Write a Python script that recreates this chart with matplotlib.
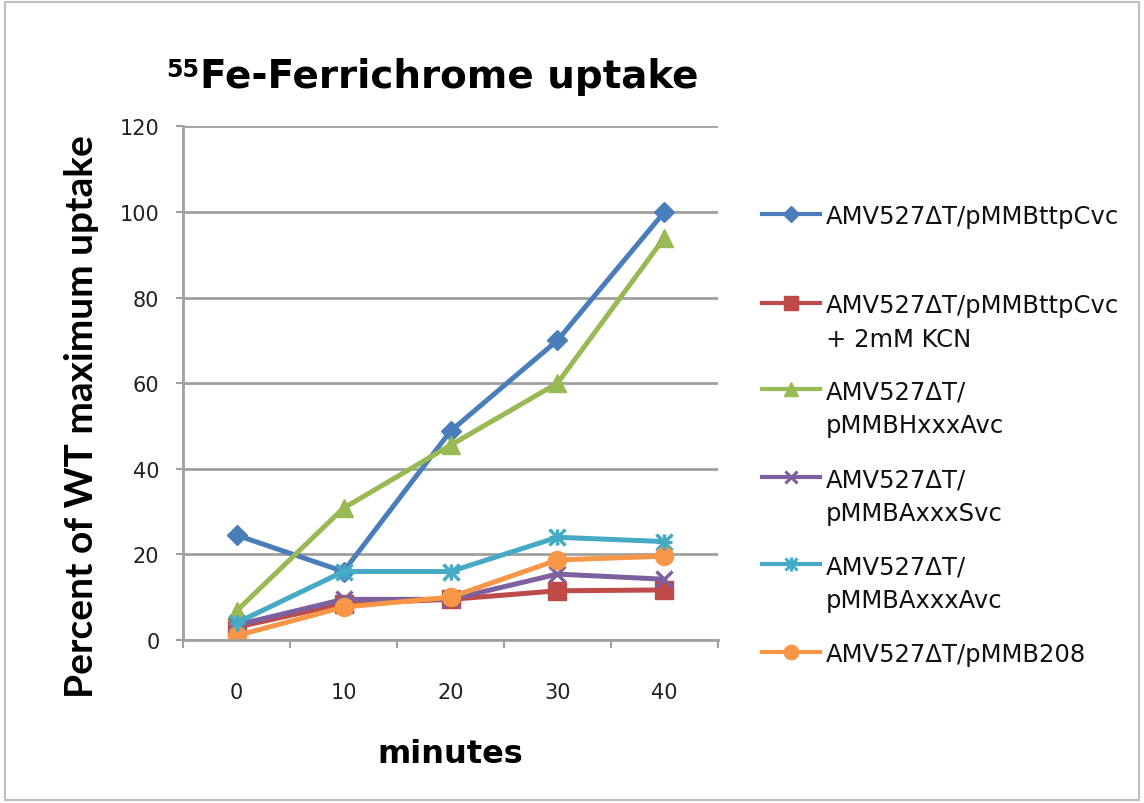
import matplotlib
matplotlib.use("Agg")
import matplotlib.pyplot as plt
from matplotlib.lines import Line2D
from matplotlib.patches import Rectangle

plt.rcParams['font.family'] = ['DejaVu Sans']

categories = ["0", "10", "20", "30", "40"]
series_names = [
    "AMV527ΔT/pMMBttpCvc",
    "AMV527ΔT/pMMBttpCvc\n+ 2mM KCN",
    "AMV527ΔT/\npMMBHxxxAvc",
    "AMV527ΔT/\npMMBAxxxSvc",
    "AMV527ΔT/\npMMBAxxxAvc",
    "AMV527ΔT/pMMB208",
]
wt = [24.5, 16, 48.8, 70, 100]
kcn = [3, 8.5, 9.5, 11.5, 11.7]
hxxxa = [6.8, 30.8, 45.5, 60, 94]
axxxs = [3.5, 9.5, 9.5, 15.4, 14.2]
axxxa = [4, 16, 16, 24, 23]
pmmb208 = [1, 7.7, 10, 18.7, 19.6]
series_values = [wt, kcn, hxxxa, axxxs, axxxa, pmmb208]
yticks = [0, 20, 40, 60, 80, 100, 120]

colors = ["#4a7ebb", "#be4b48", "#98b954", "#7d60a0", "#46aac5", "#f79646"]
markers = ["D", "s", "^", "x", "x", "o"]
msizes = [10, 13, 13, 11, 11, 13]

fig = plt.figure(figsize=(11.44, 8.04), dpi=100)
fig.patch.set_facecolor("white")
fig.add_artist(Rectangle((0.004, 0.004), 0.992, 0.992, transform=fig.transFigure,
                         fill=False, edgecolor="#bfbfbf", linewidth=1.5))

ax = fig.add_axes([0.16, 0.2027, 0.4676, 0.639])
x = list(range(len(categories)))
for vals, c, m, ms in zip(series_values, colors, markers, msizes):
    extra = {}
    if m == "x":
        extra = dict(markeredgewidth=2.5)
    ax.plot(x, vals, color=c, linewidth=3.6, marker=m, markersize=ms,
            markerfacecolor=c, markeredgecolor=c, **extra)
# cyan uses asterisk-like marker: add plus overlay
ax.plot(x, axxxa, linestyle="none", marker="+", markersize=12,
        markeredgewidth=2.5, color=colors[4])

ax.set_xlim(-0.5, 4.5)
ax.set_ylim(0, 120)
ax.set_yticks(yticks)
ax.set_yticklabels([str(v) for v in yticks], fontsize=15, color="#222222")
ax.set_xticks(x)
ax.set_xticklabels(categories, fontsize=15, color="#222222")
ax.set_xticks([i - 0.5 for i in range(len(categories) + 1)], minor=True)
ax.tick_params(axis="x", which="major", length=0, pad=30)
ax.tick_params(axis="x", which="minor", length=6, color="#a0a0a0", width=1.5)
ax.tick_params(axis="y", length=5, color="#a0a0a0", width=1.5, pad=12)
ax.grid(axis="y", color="#a0a0a0", linewidth=2)
ax.set_axisbelow(True)
for s in ["top", "right"]:
    ax.spines[s].set_visible(False)
for s in ["left", "bottom"]:
    ax.spines[s].set_color("#a0a0a0")
    ax.spines[s].set_linewidth(2)

ax.set_xlabel("minutes", fontsize=23, fontweight="bold", labelpad=26)
ax.set_ylabel("Percent of WT maximum uptake", fontsize=28, fontweight="bold",
              family=["Lato", "DejaVu Sans"])
ax.yaxis.set_label_coords(-0.157, 0.436)

fig.text(200 / 1144, 1 - 77 / 804, "Fe-Ferrichrome uptake", fontsize=28,
         fontweight="bold", ha="left", va="center")
fig.text(166 / 1144, 1 - 70 / 804, "55", fontsize=17, fontweight="bold",
         ha="left", va="center")

# legend, drawn manually for Excel-like spacing
leg_y = [215, 304, 390, 478, 565, 653]
for name, c, m, ms, yy in zip(series_names, colors, markers, msizes, leg_y):
    yf = 1 - yy / 804
    extra = {}
    if m == "x":
        extra = dict(markeredgewidth=2.2)
    fig.add_artist(Line2D([762 / 1144, 820 / 1144], [yf, yf], transform=fig.transFigure,
                          color=c, linewidth=3, marker=None))
    fig.add_artist(Line2D([791 / 1144], [yf], transform=fig.transFigure, color=c,
                          marker=m, markersize=ms * 0.8, markerfacecolor=c,
                          markeredgecolor=c, linestyle="none", **extra))
    if name == series_names[4]:
        fig.add_artist(Line2D([791 / 1144], [yf], transform=fig.transFigure, color=c,
                              marker="+", markersize=10, markeredgewidth=2.2,
                              linestyle="none"))
    fig.text(826 / 1144, yf + 0.012, name, fontsize=17.5, ha="left", va="top",
             linespacing=1.5, color="#111111")

fig.savefig("out.png", dpi=100)
